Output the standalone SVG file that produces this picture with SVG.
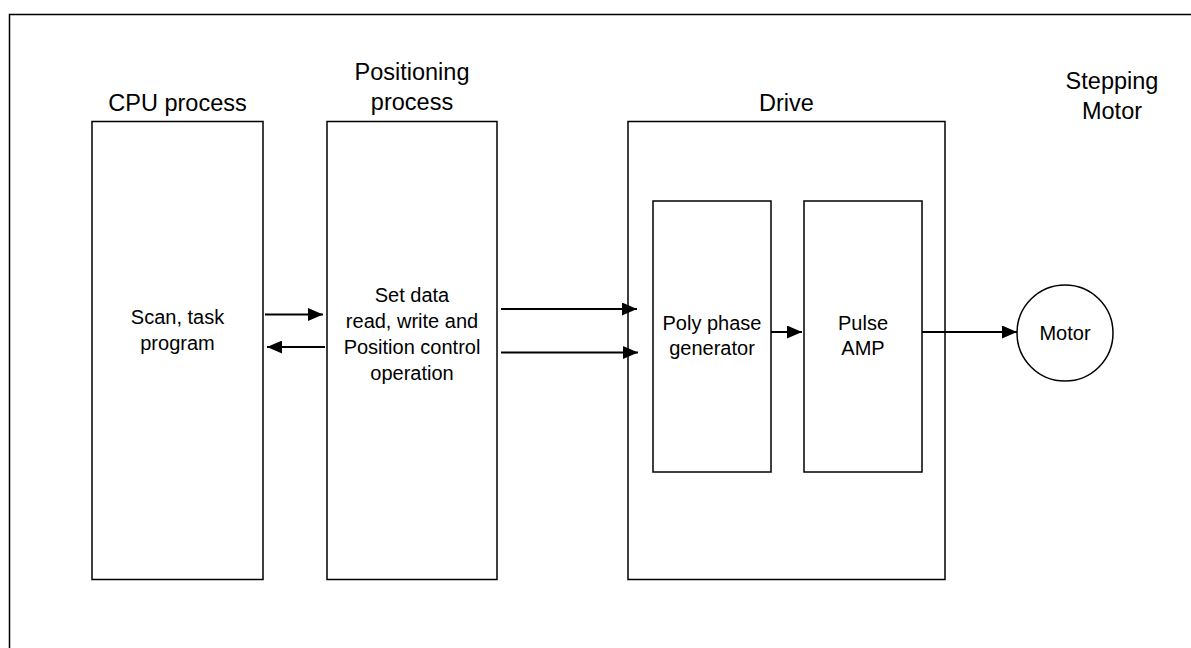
<svg xmlns="http://www.w3.org/2000/svg" width="1191" height="648" viewBox="0 0 1191 648">
<style>
.box{fill:#fff;stroke:#000;stroke-width:1.5}
.t{font-family:"Liberation Sans",Arial,sans-serif;font-size:23.5px;fill:#000;text-anchor:middle}
.b{font-family:"Liberation Sans",Arial,sans-serif;font-size:20px;fill:#000;text-anchor:middle}
.c{stroke:#000;stroke-width:2;fill:none;marker-end:url(#ah)}
</style>
<defs>
<marker id="ah" viewBox="0 0 15 13" refX="15" refY="6.5" markerWidth="15" markerHeight="13" markerUnits="userSpaceOnUse" orient="auto">
<path d="M0,0 L15,6.5 L0,13 Z" fill="#000"/>
</marker>
</defs>
<rect x="0" y="0" width="1191" height="648" fill="#fff"/>
<rect id="frame" x="9.5" y="14.5" width="1200" height="700" fill="none" stroke="#000" stroke-width="1.5"/>
<g id="cpu">
<rect class="box" x="92" y="121.5" width="171" height="458"/>
<text class="t" x="177.5" y="111">CPU process</text>
<text class="b" x="177.5" y="324">Scan, task</text>
<text class="b" x="177.5" y="350">program</text>
</g>
<g id="positioning">
<rect class="box" x="327" y="121.5" width="170" height="458"/>
<text class="t" x="412" y="80">Positioning</text>
<text class="t" x="412" y="110">process</text>
<text class="b" x="412" y="302">Set data</text>
<text class="b" x="412" y="328">read, write and</text>
<text class="b" x="412" y="354">Position control</text>
<text class="b" x="412" y="380">operation</text>
</g>
<g id="drive">
<rect class="box" x="628" y="121.5" width="317" height="458"/>
<text class="t" x="786.5" y="111">Drive</text>
</g>
<g id="poly">
<rect class="box" x="653" y="201" width="118" height="271"/>
<text class="b" x="712" y="330">Poly phase</text>
<text class="b" x="712" y="355">generator</text>
</g>
<g id="pulse">
<rect class="box" x="804" y="201" width="118" height="271"/>
<text class="b" x="863" y="330">Pulse</text>
<text class="b" x="863" y="355">AMP</text>
</g>
<g id="motor">
<circle cx="1065" cy="333" r="48" fill="#fff" stroke="#000" stroke-width="1.5"/>
<text class="b" x="1065" y="340">Motor</text>
<text class="t" x="1112" y="89">Stepping</text>
<text class="t" x="1112" y="119">Motor</text>
</g>
<g id="connectors">
<line class="c" x1="265" y1="314.5" x2="323" y2="314.5"/>
<line class="c" x1="325" y1="347" x2="267" y2="347"/>
<line class="c" x1="501" y1="309" x2="637" y2="309"/>
<line class="c" x1="501" y1="352.5" x2="638" y2="352.5"/>
<line class="c" x1="771" y1="332" x2="802" y2="332"/>
<line class="c" x1="922" y1="332" x2="1017" y2="332"/>
</g>
</svg>
